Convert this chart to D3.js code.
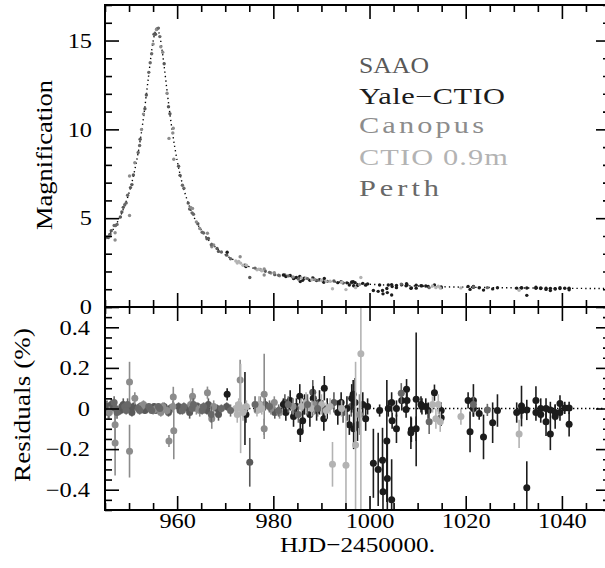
<!DOCTYPE html>
<html>
<head>
<meta charset="utf-8">
<script src="https://cdn.jsdelivr.net/npm/d3@7"></script>
<style>
  body { margin: 0; background: #fff; }
  svg { display: block; }
</style>
</head>
<body>
<svg id="chart" width="605" height="568"></svg>
<script>
// ---- Axis ticks and labels ----
const xTicks = [960, 980, 1000, 1020, 1040];
const magTicks = [0, 5, 10, 15];
const resTicks = [-0.4, -0.2, 0, 0.2, 0.4];
const xLabel = "HJD\u22122450000.";
const magLabel = "Magnification";
const resLabel = "Residuals (%)";

// ---- Best-fit point-lens model (HJD, magnification) ----
const modelHJD = [945, 946, 947, 948, 949, 950, 951, 952, 953, 954, 955, 955.5, 955.8, 956.2, 956.5,
  957, 958, 959, 960, 961, 962, 963, 964, 965, 966, 967, 968, 970, 972, 975, 978, 980, 985, 990,
  995, 1000, 1005, 1010, 1015, 1020, 1025, 1030, 1035, 1040, 1045, 1050];
const modelMag = [3.75, 4.09, 4.50, 5.00, 5.63, 6.43, 7.48, 8.85, 10.65, 12.86, 14.95, 15.54, 15.65, 15.46, 15.11,
  14.2, 11.94, 9.87, 8.25, 7.02, 6.09, 5.36, 4.79, 4.33, 3.94, 3.63, 3.36, 2.94, 2.62, 2.27, 2.01, 1.88, 1.64, 1.48,
  1.365, 1.28, 1.22, 1.18, 1.14, 1.115, 1.094, 1.078, 1.065, 1.054, 1.045, 1.038];

// ---- Observations per site: [HJD, magnification, residual, residual error] ----
const saao = [
  [945.4, 3.93, 0.01, 0.03], [945.7, 3.91, -0.02, 0.03], [946.0, 4.09, 0.00, 0.02], [946.3, 4.29, 0.02, 0.03],
  [948.2, 5.07, -0.01, 0.02], [948.5, 5.35, 0.01, 0.02], [948.8, 5.61, 0.02, 0.03], [950.3, 6.72, 0.00, 0.02],
  [950.6, 6.89, -0.02, 0.02], [950.9, 7.43, 0.01, 0.02], [952.3, 9.44, 0.01, 0.02], [953.3, 11.16, -0.01, 0.015],
  [953.6, 11.93, 0.00, 0.015], [955.2, 15.35, 0.01, 0.015], [955.5, 15.35, -0.01, 0.015], [955.8, 15.65, 0.00, 0.015],
  [957.3, 13.69, 0.01, 0.02], [958.2, 11.27, -0.02, 0.02], [958.5, 10.88, 0.00, 0.02], [960.3, 7.93, 0.01, 0.02],
  [960.6, 7.41, -0.01, 0.02], [962.3, 5.85, 0.00, 0.02], [962.6, 5.52, -0.02, 0.03], [964.3, 4.69, 0.01, 0.02],
  [966.2, 3.84, -0.01, 0.02], [966.5, 3.86, 0.02, 0.03], [968.3, 3.29, 0.00, 0.02], [968.6, 3.13, -0.03, 0.03],
  [970.3, 2.92, 0.01, 0.02], [975.1, 1.66, -0.265, 0.12], [978.3, 2.03, 0.02, 0.03], [980.3, 1.82, -0.02, 0.03],
  [982.4, 1.80, 0.03, 0.04], [984.4, 1.63, -0.02, 0.03], [986.3, 1.61, 0.01, 0.04], [988.2, 1.65, 0.08, 0.06],
  [990.3, 1.47, 0.00, 0.04], [992.6, 1.46, 0.03, 0.05], [994.5, 1.35, -0.02, 0.05], [996.2, 1.36, 0.01, 0.05]
];
const yaleCtio = [
  [970.4, 3.08, 0.07, 0.03], [974.1, 2.36, 0.00, 0.18], [974.3, 2.28, -0.03, 0.04],
  [982.1, 1.80, 0.02, 0.03], [982.6, 1.71, -0.02, 0.04], [983.5, 1.77, 0.04, 0.05], [984.2, 1.60, -0.04, 0.05],
  [984.8, 1.66, 0.01, 0.04], [985.5, 1.72, 0.06, 0.06], [985.6, 1.43, -0.115, 0.05], [986.1, 1.50, -0.06, 0.05],
  [986.5, 1.62, 0.02, 0.05], [987.6, 1.50, -0.03, 0.06], [988.3, 1.60, 0.05, 0.06], [989.0, 1.49, -0.01, 0.05],
  [989.6, 1.53, 0.03, 0.06], [990.5, 1.39, -0.05, 0.06], [990.6, 1.61, 0.10, 0.06], [991.2, 1.445, 0.00, 0.05],
  [993.4, 1.37, -0.02, 0.06], [994.1, 1.42, 0.03, 0.05], [995.3, 1.36, 0.00, 0.06], [995.8, 1.24, -0.08, 0.05],
  [996.3, 1.41, 0.05, 0.07], [996.6, 1.43, 0.07, 0.07], [996.7, 1.20, -0.10, 0.10], [997.0, 1.37, 0.03, 0.12],
  [997.5, 1.21, -0.08, 0.08], [998.6, 1.33, 0.02, 0.06], [999.2, 1.23, -0.05, 0.06], [999.6, 1.30, 0.01, 0.04],
  [1000.8, 0.93, -0.27, 0.17], [1001.8, 0.88, -0.30, 0.18], [1002.1, 1.24, -0.01, 0.03], [1002.7, 0.93, -0.255, 0.16],
  [1002.8, 0.74, -0.41, 0.15], [1003.6, 1.04, -0.16, 0.30], [1003.7, 0.81, -0.345, 0.20], [1003.9, 1.236, 0.00, 0.04],
  [1004.6, 0.675, -0.45, 0.20], [1004.6, 1.26, 0.03, 0.05], [1004.7, 1.15, -0.06, 0.04], [1005.6, 1.21, 0.00, 0.04],
  [1005.6, 1.09, -0.10, 0.07], [1006.7, 1.25, 0.04, 0.05], [1007.6, 1.19, -0.005, 0.04], [1007.7, 1.31, 0.095, 0.05],
  [1007.8, 1.24, 0.04, 0.04], [1008.6, 1.05, -0.12, 0.08], [1008.7, 1.07, -0.105, 0.06], [1009.7, 1.23, 0.045, 0.33],
  [1009.7, 1.06, -0.10, 0.06], [1010.7, 1.20, 0.02, 0.04], [1010.9, 1.19, 0.01, 0.04], [1011.7, 1.18, 0.01, 0.04],
  [1012.2, 1.15, -0.01, 0.04], [1013.5, 1.245, 0.078, 0.04], [1014.9, 1.13, -0.01, 0.04], [1014.9, 1.09, -0.045, 0.04],
  [1020.5, 1.16, 0.04, 0.04], [1020.9, 0.99, -0.115, 0.10], [1021.6, 1.155, 0.04, 0.08], [1021.6, 1.11, 0.00, 0.04],
  [1022.8, 1.08, -0.025, 0.03], [1023.7, 0.95, -0.14, 0.11], [1025.6, 1.02, -0.07, 0.10], [1026.6, 1.08, -0.01, 0.08],
  [1030.6, 1.06, -0.02, 0.05], [1031.6, 1.09, 0.012, 0.10], [1031.6, 1.066, -0.01, 0.04], [1032.7, 1.067, -0.007, 0.05],
  [1032.7, 0.655, -0.39, 0.13], [1034.6, 1.11, 0.04, 0.07], [1034.6, 1.05, -0.02, 0.04], [1035.6, 1.067, 0.00, 0.05],
  [1035.6, 1.035, -0.03, 0.04], [1036.7, 1.06, 0.00, 0.05], [1036.7, 0.99, -0.065, 0.07], [1037.6, 1.05, -0.007, 0.04],
  [1037.6, 0.93, -0.125, 0.08], [1038.6, 1.036, -0.02, 0.04], [1038.6, 1.015, -0.04, 0.06], [1039.6, 1.08, 0.025, 0.04],
  [1039.6, 1.035, -0.02, 0.04], [1040.6, 1.058, 0.003, 0.03], [1041.5, 1.055, 0.003, 0.03], [1041.5, 0.97, -0.078, 0.06]
];
const canopus = [
  [945.9, 3.98, -0.02, 0.03], [947.1, 3.77, -0.17, 0.16], [947.1, 4.18, -0.08, 0.10], [950.1, 7.37, 0.13, 0.10],
  [950.1, 5.15, -0.21, 0.13], [951.2, 8.12, 0.05, 0.03], [952.6, 9.99, 0.01, 0.02], [953.0, 10.86, 0.02, 0.02],
  [955.0, 14.80, -0.01, 0.02], [955.7, 15.62, 0.00, 0.02], [956.6, 14.65, -0.02, 0.02], [957.0, 14.34, 0.01, 0.02],
  [957.9, 12.03, -0.01, 0.02], [958.3, 9.49, -0.16, 0.03], [959.1, 9.80, 0.01, 0.03], [959.2, 10.06, 0.057, 0.05],
  [959.3, 8.32, -0.11, 0.14], [962.8, 5.60, 0.02, 0.03], [963.2, 5.55, 0.06, 0.04], [964.0, 4.79, 0.00, 0.03],
  [964.7, 4.42, -0.01, 0.03], [966.3, 4.15, 0.078, 0.03], [967.2, 3.39, -0.05, 0.05], [967.6, 3.49, 0.01, 0.03],
  [973.1, 2.83, 0.14, 0.10], [977.3, 2.11, 0.02, 0.04], [978.1, 2.14, 0.07, 0.20], [978.1, 1.80, -0.10, 0.05],
  [979.5, 1.91, 0.00, 0.03], [980.2, 1.93, 0.03, 0.03], [981.3, 1.76, -0.02, 0.03], [984.1, 1.69, 0.01, 0.04],
  [988.6, 1.55, 0.02, 0.05], [997.9, 1.27, -0.03, 0.10]
];
const ctio09 = [
  [972.2, 2.59, 0.00, 0.03], [972.5, 2.48, -0.03, 0.04], [972.8, 2.56, 0.02, 0.03], [973.2, 2.47, 0.00, 0.22],
  [973.7, 2.35, -0.02, 0.04], [974.4, 2.35, 0.01, 0.03], [976.6, 2.10, -0.01, 0.03], [977.0, 2.13, 0.02, 0.04],
  [977.6, 2.04, 0.00, 0.03], [985.8, 1.63, 0.01, 0.04], [986.8, 1.62, 0.03, 0.05], [988.0, 1.535, 0.00, 0.04],
  [990.0, 1.51, 0.02, 0.05], [991.0, 1.44, -0.01, 0.04], [991.8, 1.45, 0.01, 0.04], [992.3, 1.03, -0.275, 0.11],
  [994.2, 1.39, 0.00, 0.04], [995.1, 0.98, -0.28, 0.28], [997.1, 1.09, -0.18, 0.41], [998.2, 1.66, 0.27, 0.80],
  [1013.1, 1.18, 0.02, 0.04], [1013.8, 1.09, -0.05, 0.05], [1014.3, 1.17, 0.02, 0.05], [1014.7, 1.07, -0.065, 0.05],
  [1019.0, 1.075, -0.04, 0.04], [1031.1, 0.94, -0.125, 0.07]
];
const perth = [
  [946.9, 4.59, 0.03, 0.03], [947.2, 4.59, 0.00, 0.02], [947.5, 4.65, -0.02, 0.03], [949.1, 5.76, 0.01, 0.02],
  [949.4, 5.86, -0.01, 0.02], [949.7, 6.29, 0.02, 0.03], [951.9, 8.70, 0.00, 0.02], [952.2, 9.09, -0.01, 0.02],
  [954.1, 13.21, 0.01, 0.015], [954.4, 13.75, 0.00, 0.015], [954.7, 14.26, -0.01, 0.015], [956.1, 15.70, 0.01, 0.015],
  [956.4, 15.22, 0.00, 0.015], [961.1, 6.85, -0.01, 0.02], [961.4, 6.69, 0.01, 0.02], [963.1, 5.30, 0.00, 0.02],
  [963.4, 5.22, 0.02, 0.03], [965.2, 4.21, -0.01, 0.02], [965.5, 4.17, 0.01, 0.02], [967.1, 3.50, -0.03, 0.04],
  [969.2, 3.10, 0.00, 0.02], [971.1, 2.72, -0.01, 0.03], [976.2, 2.19, 0.02, 0.04], [979.2, 1.95, 0.01, 0.03],
  [981.1, 1.79, -0.01, 0.03], [983.1, 1.75, 0.02, 0.04], [985.2, 1.58, -0.03, 0.04], [987.1, 1.60, 0.02, 0.05],
  [989.2, 1.50, 0.00, 0.04], [1006.6, 1.29, 0.075, 0.05], [1012.4, 1.09, -0.065, 0.06], [1021.6, 1.13, 0.02, 0.04],
  [1024.5, 1.09, -0.007, 0.03]
];

const siteNames = ["SAAO", "Yale\u2212CTIO", "Canopus", "CTIO 0.9m", "Perth"];
const siteColors = ["#595959", "#1c1c1c", "#8c8c8c", "#b3b3b3", "#686868"];
const siteObs = [saao, yaleCtio, canopus, ctio09, perth];

// ---- Layout ----
const L = 105, R = 610, T = 5, MID = 307, B = 510;
const FONT = "'Liberation Serif', serif";

const svg = d3.select("#chart");
const x = d3.scaleLinear().domain([945, 1050]).range([L, R]);
const yMag = d3.scaleLinear().domain([0, 17]).range([MID, T]);
const yRes = d3.scaleLinear().domain([-0.5, 0.5]).range([B, MID]);

const defs = svg.append("defs");
defs.append("clipPath").attr("id", "clipTop")
  .append("rect").attr("x", L).attr("y", T).attr("width", R - L).attr("height", MID - T);
defs.append("clipPath").attr("id", "clipBot")
  .append("rect").attr("x", L).attr("y", MID).attr("width", R - L).attr("height", B - MID);

// ---- Upper panel: model curve and photometry ----
const upper = svg.append("g").attr("clip-path", "url(#clipTop)");
const modelPts = modelHJD.map((t, i) => [t, modelMag[i]]);
upper.append("path")
  .datum(modelPts)
  .attr("fill", "none")
  .attr("stroke", "#000")
  .attr("stroke-width", 1.4)
  .attr("stroke-dasharray", "1.3,3.1")
  .attr("d", d3.line().x(d => x(d[0])).y(d => yMag(d[1])).curve(d3.curveMonotoneX));

siteObs.forEach((obs, i) => {
  upper.append("g").selectAll("circle").data(obs).join("circle")
    .attr("cx", d => x(d[0]))
    .attr("cy", d => yMag(d[1]))
    .attr("r", 1.7)
    .attr("fill", siteColors[i]);
});

// ---- Lower panel: residuals ----
const lower = svg.append("g").attr("clip-path", "url(#clipBot)");
lower.append("line")
  .attr("x1", x.range()[0]).attr("x2", x.range()[1])
  .attr("y1", yRes(0)).attr("y2", yRes(0))
  .attr("stroke", "#000").attr("stroke-width", 1.4)
  .attr("stroke-dasharray", "1.4,2.6");

siteObs.forEach((obs, i) => {
  const g = lower.append("g");
  g.selectAll("line").data(obs).join("line")
    .attr("x1", d => x(d[0])).attr("x2", d => x(d[0]))
    .attr("y1", d => yRes(d[2] - d[3])).attr("y2", d => yRes(d[2] + d[3]))
    .attr("stroke", siteColors[i]).attr("stroke-width", 1.6);
  g.selectAll("circle").data(obs).join("circle")
    .attr("cx", d => x(d[0]))
    .attr("cy", d => yRes(d[2]))
    .attr("r", 3.5)
    .attr("fill", siteColors[i]);
});

// ---- Axes (ticks point inward on every side) ----
const xMinor = d3.range(945, 1051, 5).filter(v => !xTicks.includes(v));
const magMinor = d3.range(0, 18, 1).filter(v => !magTicks.includes(v));
const resMinor = d3.range(-10, 11, 1).map(v => v * 0.05).filter(v => !resTicks.some(t => Math.abs(t - v) < 1e-9));

// widen the serif glyphs a little so the numerals read broad and light
function widen(sel, factor) {
  sel.each(function () {
    const w = this.getComputedTextLength();
    d3.select(this).attr("textLength", w * factor).attr("lengthAdjust", "spacingAndGlyphs");
  });
}

function drawAxis(axis, tx, ty, labels) {
  const g = svg.append("g").attr("transform", `translate(${tx},${ty})`).call(axis);
  g.select(".domain").remove();
  g.selectAll(".tick line").attr("stroke", "#000").attr("stroke-width", 1.6);
  g.selectAll(".tick text").attr("fill", "#000").attr("font-family", FONT).attr("font-size", 21);
  if (!labels) g.selectAll(".tick text").remove();
  else widen(g.selectAll(".tick text"), 1.16);
  return g;
}

// x axes
drawAxis(d3.axisTop(x).tickValues(xTicks).tickSize(-14), 0, T, false);
drawAxis(d3.axisTop(x).tickValues(xMinor).tickSize(-7), 0, T, false);
drawAxis(d3.axisBottom(x).tickValues(xTicks).tickSize(-14), 0, MID, false);
drawAxis(d3.axisBottom(x).tickValues(xMinor).tickSize(-7), 0, MID, false);
drawAxis(d3.axisTop(x).tickValues(xTicks).tickSize(-14), 0, MID, false);
drawAxis(d3.axisTop(x).tickValues(xMinor).tickSize(-7), 0, MID, false);
drawAxis(d3.axisBottom(x).tickValues(xTicks).tickSize(-14).tickPadding(3).tickFormat(d3.format("d")), 0, B, true);
drawAxis(d3.axisBottom(x).tickValues(xMinor).tickSize(-7), 0, B, false);

// magnification axes
drawAxis(d3.axisLeft(yMag).tickValues(magTicks).tickSize(-14).tickPadding(13).tickFormat(d3.format("d")), L, 0, true);
drawAxis(d3.axisLeft(yMag).tickValues(magMinor).tickSize(-7), L, 0, false);
drawAxis(d3.axisRight(yMag).tickValues(magTicks).tickSize(-14), R, 0, false);
drawAxis(d3.axisRight(yMag).tickValues(magMinor).tickSize(-7), R, 0, false);

// residual axes
const resFmt = d => d === 0 ? "0" : d3.format(".1f")(d);
drawAxis(d3.axisLeft(yRes).tickValues(resTicks).tickSize(-14).tickPadding(15).tickFormat(resFmt), L, 0, true);
drawAxis(d3.axisLeft(yRes).tickValues(resMinor).tickSize(-7), L, 0, false);
drawAxis(d3.axisRight(yRes).tickValues(resTicks).tickSize(-14), R, 0, false);
drawAxis(d3.axisRight(yRes).tickValues(resMinor).tickSize(-7), R, 0, false);

// frame and panel divider
svg.append("rect").attr("x", L).attr("y", T).attr("width", R - L).attr("height", B - T)
  .attr("fill", "none").attr("stroke", "#000").attr("stroke-width", 2);
svg.append("line").attr("x1", L).attr("x2", R).attr("y1", MID).attr("y2", MID)
  .attr("stroke", "#000").attr("stroke-width", 2);

// Text stretched to a given width: glyphs widen by at most maxScale, the rest goes to letter spacing.
function fitText(parent, str, tx, ty, rotate, width, size, fill, anchor, maxScale) {
  const g = parent.append("g").attr("transform", `translate(${tx},${ty})${rotate ? " rotate(-90)" : ""}`);
  const inner = g.append("g");
  const t = inner.append("text")
    .attr("text-anchor", anchor)
    .attr("font-family", FONT).attr("font-size", size)
    .attr("fill", fill)
    .text(str);
  const w = t.node().getComputedTextLength();
  const s = Math.min(width / w, maxScale);
  inner.attr("transform", `scale(${s},1)`);
  t.attr("textLength", width / s).attr("lengthAdjust", "spacing");
  return t;
}

// ---- Axis titles ----
fitText(svg, xLabel, (L + R) / 2, 552, false, 155, 22, "#000", "middle", 1.2);
fitText(svg, magLabel, 52, 155, true, 150, 23.5, "#000", "middle", 1.15);
fitText(svg, resLabel, 30, 405, true, 154, 23.5, "#000", "middle", 1.15);

// ---- Site legend ----
const legendY = [73, 103.5, 133, 165, 196];
const legendW = [70, 146, 125, 149, 80];
siteNames.forEach((name, i) => {
  fitText(svg, name, 359, legendY[i], false, legendW[i], 22.5, siteColors[i], "start", 1.35);
});
</script>
</body>
</html>
